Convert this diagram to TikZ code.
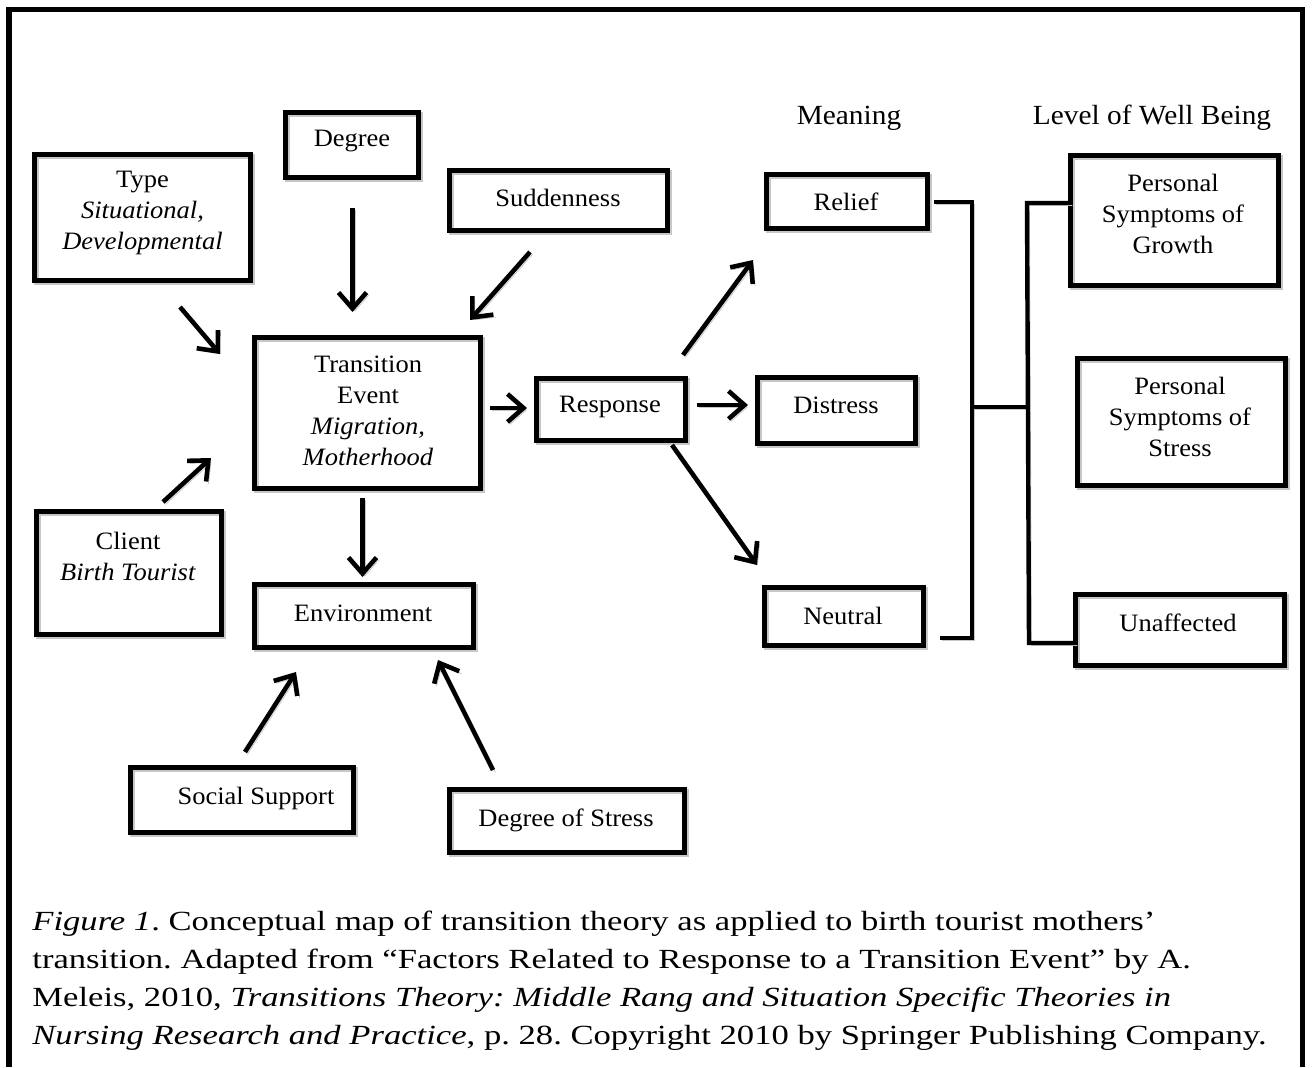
\documentclass[tikz,border=0pt]{standalone}
\usepackage{fontspec}
\setmainfont{Liberation Serif}[FakeStretch=1.06]
\newfontfamily\capfont{Liberation Serif}[FakeStretch=1.25]
\usetikzlibrary{arrows.meta,fit}
\begin{document}
\frenchspacing
\begin{tikzpicture}[x=0.5pt,y=-0.5pt,
  shd/.style={preaction={draw=black!22, transform canvas={shift={(1.2pt,-1.2pt)}}}},
  bx/.style={draw, line width=2.5pt, inner sep=0pt, shd},
  tx/.style={align=center, font=\fontsize{12.5}{15.5}\selectfont, inner sep=0pt},
  hd/.style={font=\fontsize{13.85}{17}\selectfont, inner sep=0pt},
  capline/.style={anchor=base west, font=\capfont\fontsize{13.85}{17}\selectfont, inner sep=0pt},
  arr/.style={line width=2.3pt, -{Straight Barb[length=8pt,width=14pt]}, line join=round, shd},
  ln/.style={line width=2.2pt, shd}]
\useasboundingbox (0,0) rectangle (1312,1067);
% frame
\draw[line width=2.6pt] (9,1067) -- (9,9.5) -- (1302.5,9.5) -- (1302.5,1067);

% boxes
\node[bx, fit={(34.5,154.5) (250.5,280.5)}] (type) {};
\node[bx, fit={(285.5,112.5) (418.5,177.5)}] (degree) {};
\node[bx, fit={(449.5,170) (667,230.5)}] (sudden) {};
\node[bx, fit={(766,174) (927,228)}] (relief) {};
\node[bx, fit={(1070,155) (1278,285)}] (growth) {};
\node[bx, fit={(254.5,337.5) (480.5,488)}] (te) {};
\node[bx, fit={(536,378) (685,440)}] (response) {};
\node[bx, fit={(757,377) (915,443)}] (distress) {};
\node[bx, fit={(1077,358) (1285,485)}] (stress) {};
\node[bx, fit={(36.5,511.5) (221.5,634)}] (client) {};
\node[bx, fit={(254.5,584.5) (473.5,647)}] (env) {};
\node[bx, fit={(764,587) (923,645)}] (neutral) {};
\node[bx, fit={(1075,594) (1284,665)}] (unaff) {};
\node[bx, fit={(130.5,767) (353,832)}] (social) {};
\node[bx, fit={(449,789) (684,852)}] (dos) {};

% texts
\node[tx] (typeT) at (142.5,213) {Type\\\textit{Situational,}\\\textit{Developmental}};
\node[tx] (degreeT) at (352,141) {Degree};
\node[tx] (suddenT) at (558,198) {Suddenness};
\node[hd] (meaning) at (849,118) {Meaning};
\node[hd] (level) at (1152,118) {Level of Well Being};
\node[tx] (reliefT) at (846,202) {Relief};
\node[tx] (growthT) at (1173,214) {Personal\\Symptoms of\\Growth};
\node[tx] (teT) at (368,411) {Transition\\Event\\\textit{Migration,}\\\textit{Motherhood}};
\node[tx] (responseT) at (610,407) {Response};
\node[tx] (distressT) at (836,405) {Distress};
\node[tx] (stressT) at (1180,417) {Personal\\Symptoms of\\Stress};
\node[tx] (clientT) at (128,556) {Client\\\textit{Birth Tourist}};
\node[tx] (envT) at (363,613) {Environment};
\node[tx] (neutralT) at (843,616) {Neutral};
\node[tx] (unaffT) at (1178,623) {Unaffected};
\node[tx] (socialT) at (256,798) {Social Support};
\node[tx] (dosT) at (566,820) {Degree of Stress};

% arrow end points
\coordinate (a1s) at (180,307);   \coordinate (a1e) at (220,354);
\coordinate (a2s) at (352.5,208); \coordinate (a2e) at (352.5,312);
\coordinate (a3s) at (530,252);   \coordinate (a3e) at (470,320);
\coordinate (a4s) at (163,502);   \coordinate (a4e) at (211,458);
\coordinate (a5s) at (490,408);   \coordinate (a5e) at (527,408);
\coordinate (a6s) at (362.5,498); \coordinate (a6e) at (362.5,577);
\coordinate (a7s) at (683,355);   \coordinate (a7e) at (753,260);
\coordinate (a8s) at (697,405);   \coordinate (a8e) at (748,405);
\coordinate (a9s) at (672,445);   \coordinate (a9e) at (757,565);
\coordinate (a10s) at (245,752);  \coordinate (a10e) at (296,672);
\coordinate (a11s) at (493,770);  \coordinate (a11e) at (438,660);
\foreach \i in {1,...,11} {\draw[arr] (a\i s) -- (a\i e);}

% brackets
\coordinate (b1) at (934,202);  \coordinate (b2) at (972,202);
\coordinate (b3) at (972,638);  \coordinate (b4) at (940,638);
\coordinate (bm) at (972,407);  \coordinate (bn) at (1027,407);
\coordinate (c1) at (1070,203); \coordinate (c2) at (1027,203);
\coordinate (c3) at (1029,643); \coordinate (c4) at (1075,643);
\draw[ln] (b1) -- (b2) -- (b3) -- (b4);
\draw[ln] (bm) -- (bn);
\draw[ln] (c1) -- (c2) -- (c3) -- (c4);

% caption
\node[capline] (cap1) at (32,930) {\textit{Figure 1}. Conceptual map of transition theory as applied to birth tourist mothers’};
\node[capline] (cap2) at (32,968) {transition. Adapted from “Factors Related to Response to a Transition Event” by A.};
\node[capline] (cap3) at (32,1006) {Meleis, 2010, \textit{Transitions Theory: Middle Rang and Situation Specific Theories in}};
\node[capline] (cap4) at (32,1044) {\textit{Nursing Research and Practice}, p. 28. Copyright 2010 by Springer Publishing Company.};
\end{tikzpicture}
\end{document}
